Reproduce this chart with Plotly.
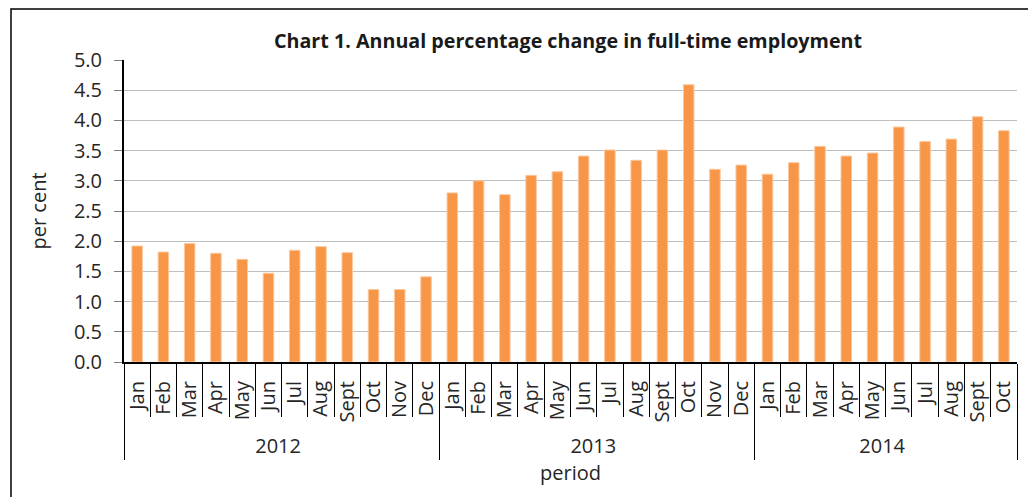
import plotly.graph_objects as go

years = ["2012"] * 12 + ["2013"] * 12 + ["2014"] * 10
months = ["Jan", "Feb", "Mar", "Apr", "May", "Jun", "Jul", "Aug", "Sept", "Oct", "Nov", "Dec",
          "Jan", "Feb", "Mar", "Apr", "May", "Jun", "Jul", "Aug", "Sept", "Oct", "Nov", "Dec",
          "Jan", "Feb", "Mar", "Apr", "May", "Jun", "Jul", "Aug", "Sept", "Oct"]
values = [1.92, 1.82, 1.96, 1.80, 1.70, 1.47, 1.85, 1.91, 1.81, 1.20, 1.20, 1.41,
          2.80, 3.00, 2.77, 3.09, 3.15, 3.41, 3.51, 3.34, 3.51, 4.59, 3.19, 3.26,
          3.11, 3.30, 3.57, 3.41, 3.46, 3.89, 3.65, 3.69, 4.06, 3.83]
y_ticks = [0.0, 0.5, 1.0, 1.5, 2.0, 2.5, 3.0, 3.5, 4.0, 4.5, 5.0]

FONT = "Open Sans"
TXT = "#262626"

fig = go.Figure()
fig.add_trace(go.Bar(
    x=[years, months], y=values,
    marker=dict(color="#F79646", line=dict(color="#FBC79E", width=1)),
))

# the page adds an 8px body margin, so figure coords = page coords - 8
W, H = 1036, 497
l, r, t, b = 116, 27, 52, 143
fig.update_layout(
    width=W, height=H,
    margin=dict(l=l, r=r, t=t, b=b, autoexpand=False),
    paper_bgcolor="white", plot_bgcolor="white",
    bargap=0.6,
    showlegend=False,
    font=dict(family=FONT, color=TXT, size=19),
    title=dict(text="<b>Chart 1. Annual percentage change in full-time employment</b>",
               x=560 / W, xanchor="center", y=1 - 33 / H, yanchor="middle",
               font=dict(family=FONT, size=19.7, color="#1a1a1a")),
)
fig.update_yaxes(
    range=[0, 5], tickvals=y_ticks, ticktext=[f"{v:.1f}" for v in y_ticks],
    showgrid=True, gridcolor="#BFBFBF", gridwidth=1,
    showline=True, linecolor="black", linewidth=2,
    ticks="outside", ticklen=8, tickcolor="#7f7f7f", tickwidth=1,
    ticklabelstandoff=8,
    zeroline=False, automargin=False,
    title=dict(text="per cent", font=dict(family=FONT, size=20, color=TXT), standoff=22),
    tickfont=dict(family=FONT, size=20, color=TXT),
)
fig.update_xaxes(
    type="multicategory",
    showline=True, linecolor="black", linewidth=2,
    ticks="outside", ticklen=53, tickcolor="black", tickwidth=1,
    tickangle=-90, automargin=False, ticklabelstandoff=9,
    showdividers=True, dividercolor="black", dividerwidth=1,
    tickfont=dict(family=FONT, size=20, color=TXT),
    title=dict(text="period", font=dict(family=FONT, size=20, color=TXT), standoff=8),
)
# outer chart border
fig.add_shape(type="rect", xref="paper", yref="paper",
              x0=(3 - l) / (W - l - r), x1=(W + 10 - l) / (W - l - r),
              y0=-(H + 10 - (H - b)) / (H - t - b), y1=1 + (t - 1) / (H - t - b),
              line=dict(color="black", width=1.5), fillcolor="rgba(0,0,0,0)", layer="below")

fig.write_html("out.html")
